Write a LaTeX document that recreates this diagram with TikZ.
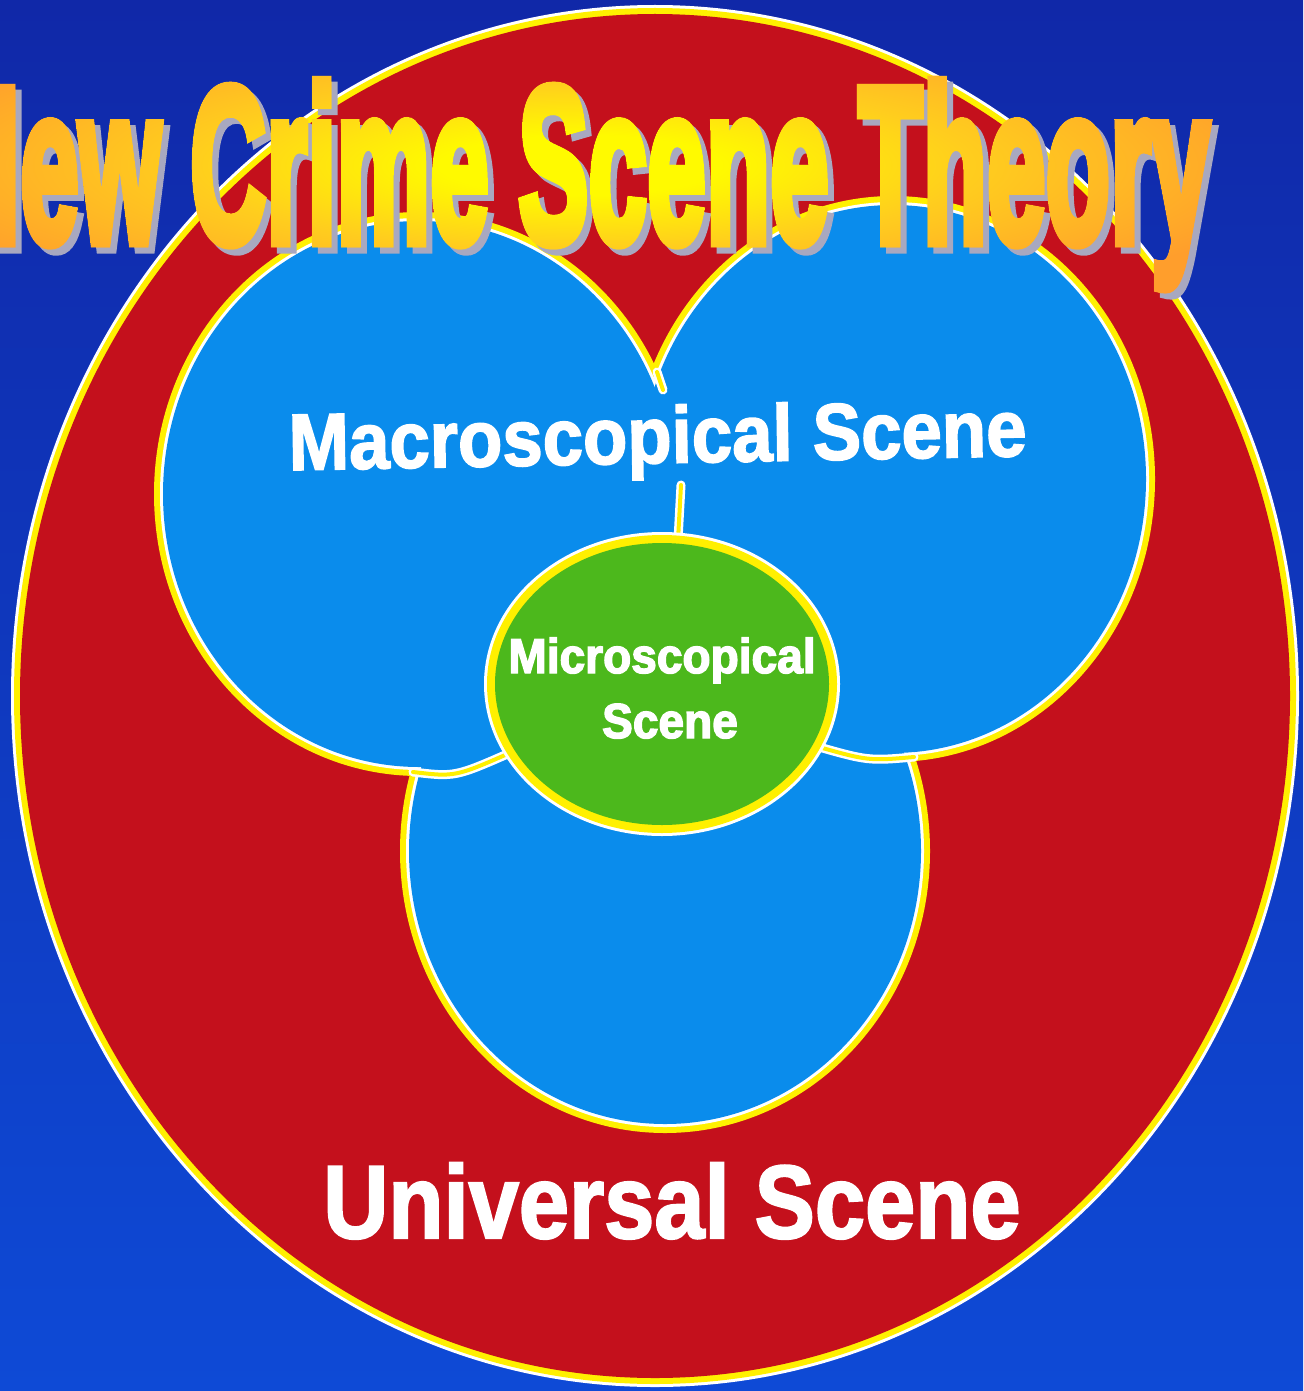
\documentclass[tikz,border=0pt]{standalone}
\usepackage{fontspec}
\setmainfont{Liberation Sans}
\newfontfamily\titlefont[BoldFeatures={FakeBold=5}]{Liberation Sans}
\newfontfamily\labelfont[BoldFeatures={FakeBold=2.2}]{Liberation Sans}
\newfontfamily\microfont[BoldFeatures={FakeBold=3}]{Liberation Sans}
\usetikzlibrary{fadings}
\definecolor{bgtop}{RGB}{16,40,168}
\definecolor{bgbot}{RGB}{14,74,214}
\definecolor{ured}{RGB}{196,16,28}
\definecolor{yband}{RGB}{255,240,0}
\definecolor{mblue}{RGB}{10,140,236}
\definecolor{mgreen}{RGB}{76,184,28}
\definecolor{tyellow}{RGB}{255,250,0}
\definecolor{tgold}{RGB}{255,205,30}
\definecolor{torange}{RGB}{255,158,44}
\definecolor{tshadow}{RGB}{168,168,192}
\pgfdeclareradialshading{titleshade}{\pgfpoint{0bp}{0bp}}{color(0bp)=(tyellow); color(5bp)=(tyellow); color(14bp)=(tgold); color(26bp)=(torange); color(50bp)=(torange)}
\newcommand{\titlefontsel}{\titlefont\bfseries\fontsize{222}{222}\selectfont}
\begin{tikzfadingfrompicture}[name=titlefade]
  \path (-700pt,-150pt) rectangle (700pt,150pt);
  \node[anchor=base east, inner sep=0pt, text=transparent!0, xscale=0.475, font=\titlefontsel] at (630pt,-77pt) {New Crime Scene Theory};
\end{tikzfadingfrompicture}
\tikzset{
  stub/.style={draw=white, double=yband, double distance=4pt, line width=2.5pt, line cap=round},
  label/.style={anchor=base, inner sep=0pt, text=white}
}
\begin{document}
\begin{tikzpicture}[x=1pt,y=-1pt]
\useasboundingbox (0,0) rectangle (1303,1391);
\clip (0,0) rectangle (1303,1391);
\shade[top color=bgtop, bottom color=bgbot] (0,0) rectangle (1303,1391);
% universal ellipse
\fill[white] (655,696) ellipse [x radius=644pt, y radius=691pt];
\fill[yband] (655,696) ellipse [x radius=641pt, y radius=688pt];
\fill[ured] (655,696) ellipse [x radius=635pt, y radius=682pt];
% macro circles
\fill[yband] (419,494) ellipse [x radius=265pt, y radius=282pt];
\fill[yband] (893,479) ellipse [x radius=262pt, y radius=283pt];
\fill[yband] (665,851) ellipse [x radius=265pt, y radius=282pt];
\fill[white] (419,494) ellipse [x radius=259pt, y radius=276pt];
\fill[white] (893,479) ellipse [x radius=256pt, y radius=277pt];
\fill[white] (665,851) ellipse [x radius=259pt, y radius=276pt];
\fill[mblue] (419,494) ellipse [x radius=256pt, y radius=273pt];
\fill[mblue] (893,479) ellipse [x radius=253pt, y radius=274pt];
\fill[mblue] (665,851) ellipse [x radius=256pt, y radius=273pt];
% internal boundaries
\coordinate (cusp) at (657,372);
\coordinate (cuspend) at (663,390);
\coordinate (mid1) at (681,485);
\coordinate (mid2) at (678,540);
\coordinate (ljoin) at (413,772);
\coordinate (lend) at (512,752);
\coordinate (rjoin) at (914,757);
\coordinate (rend) at (812,745);
\draw[stub] (cusp) -- (cuspend);
\draw[stub] (mid1) -- (mid2);
\draw[stub] (ljoin) .. controls (455,777) .. (lend);
\draw[stub] (rend) .. controls (868,761) .. (rjoin);
% micro ellipse
\fill[white] (662,684) ellipse [x radius=178pt, y radius=152pt];
\fill[yband] (662,684) ellipse [x radius=175pt, y radius=149pt];
\fill[mgreen] (662,684) ellipse [x radius=167pt, y radius=141pt];
% labels
\node[label, font=\labelfont\bfseries\fontsize{80}{80}\selectfont, xscale=0.907, rotate=1] (macro) at (658,463) {Macroscopical Scene};
\node[label, font=\microfont\bfseries\fontsize{49}{49}\selectfont, xscale=0.94] (micro1) at (662,673) {Microscopical};
\node[label, font=\microfont\bfseries\fontsize{49}{49}\selectfont, xscale=0.94] (micro2) at (670,738) {Scene};
\node[label, font=\labelfont\bfseries\fontsize{104}{104}\selectfont, xscale=0.868] (univ) at (672,1238) {Universal Scene};
% title
\node[anchor=base east, inner sep=0pt, text=tshadow, xscale=0.475, font=\titlefontsel] (titleshadow) at (1216,248) {New Crime Scene Theory};
\shade[shading=titleshade, path fading=titlefade, fit fading=false, fading transform={shift={(580,165)}}] (-120,15) rectangle (1280,315);
\end{tikzpicture}
\end{document}
